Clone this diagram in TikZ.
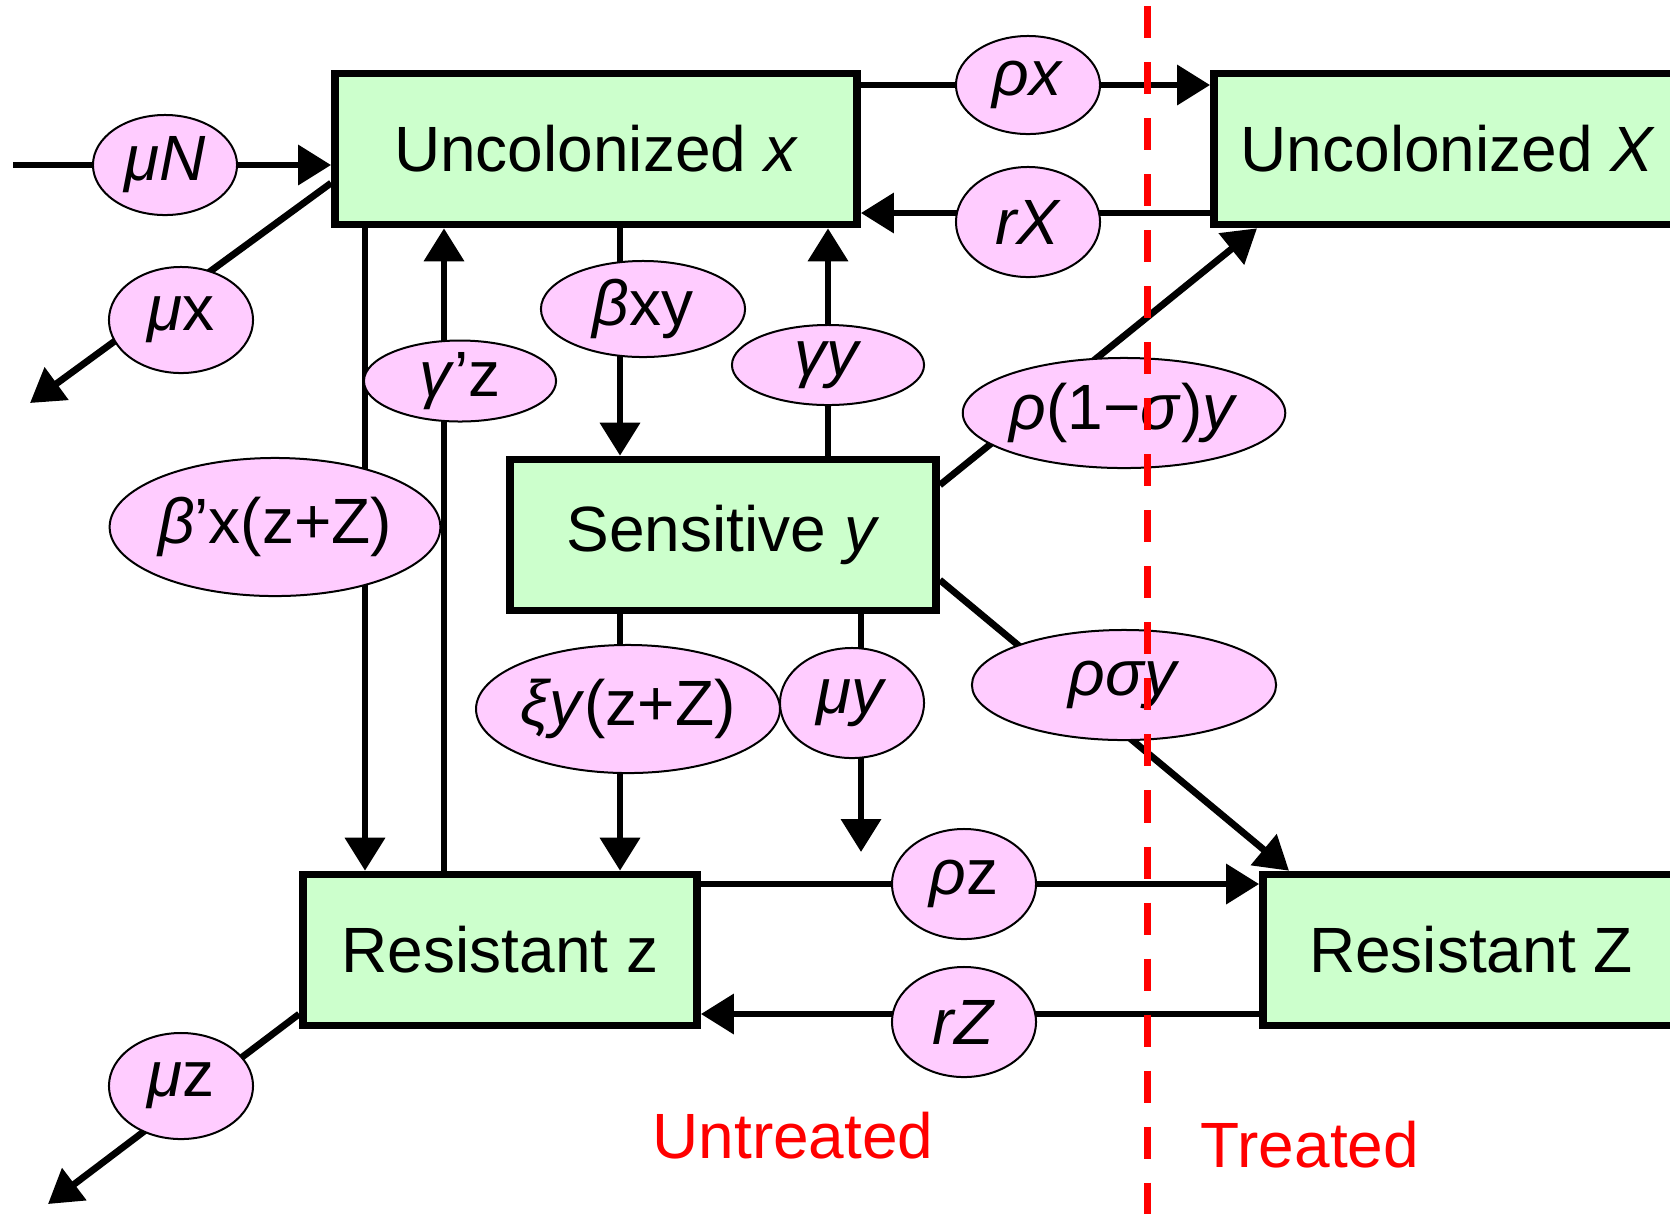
\documentclass[tikz,border=0pt]{standalone}
\usepackage{fontspec}
\setmainfont{Liberation Sans}
\usetikzlibrary{positioning}
\usetikzlibrary{shapes}
\usetikzlibrary{arrows.meta}

\definecolor{boxgreen}{HTML}{CCFFCC}
\definecolor{ratepink}{HTML}{FFCCFF}

\begin{document}
\begin{tikzpicture}[x = 0.01cm, y = -0.01cm, font = \fontsize{18.2}{22}\selectfont,
    box/.style = {draw, fill = boxgreen, line width = 0.075cm, minimum height = 1.51cm, inner sep = 0},
    rate/.style = {draw, ellipse, fill = ratepink, line width = 0.02cm, inner sep = 0},
    link/.style = {line width = 0.068cm},
    flow/.style = {link, -{Triangle[length = 0.33cm, width = 0.39cm]}}]
    \useasboundingbox (0,0) rectangle (1670,1214) ;
    % compartments
    \node[box, minimum width = 5.22cm] at (596,149) (ux) {Uncolonized \textit{x}} ;
    \node[box, minimum width = 4.68cm] at (1448,149) (uX) {Uncolonized \textit{X}} ;
    \node[box, minimum width = 4.26cm] at (723,535) (sy) {Sensitive \textit{y}} ;
    \node[box, minimum width = 3.94cm] at (500,950) (rz) {Resistant z} ;
    \node[box, minimum width = 4.16cm] at (1471,950) (rZ) {Resistant Z} ;
    % free ends
    \coordinate (inN) at (13,165) ;
    \coordinate (outx) at (30,403) ;
    \coordinate (outy) at (861,852) ;
    \coordinate (outz) at (48,1204) ;
    % flows
    \draw[flow] (inN) -- (inN -| ux.west) ;
    \draw[flow] (ux.west |- 0,183) -- (outx) ;
    \draw[flow] (rz.west |- 0,1014) -- (outz) ;
    \draw[flow] (ux.east |- 0,85) -- (uX.west |- 0,85) ;
    \draw[flow] (uX.west |- 0,213) -- (ux.east |- 0,213) ;
    \draw[flow] (ux.south -| 365,0) -- (rz.north -| 365,0) ;
    \draw[flow] (rz.north -| 444,0) -- (ux.south -| 444,0) ;
    \draw[flow] (ux.south -| 620,0) -- (sy.north -| 620,0) ;
    \draw[flow] (sy.north -| 828,0) -- (ux.south -| 828,0) ;
    \draw[flow] (sy.south -| 620,0) -- (rz.north -| 620,0) ;
    \draw[flow] (sy.south -| 861,0) -- (outy) ;
    \draw[flow] (sy.east |- 0,485) -- (uX.south -| 1257,0) ;
    \draw[flow] (sy.east |- 0,580) -- (rZ.north -| 1289,0) ;
    \draw[flow] (rz.east |- 0,884) -- (rZ.west |- 0,884) ;
    \draw[flow] (rZ.west |- 0,1014) -- (rz.east |- 0,1014) ;
    % rates
    \node[rate, minimum width = 1.44cm, minimum height = 1.0cm] at (165,165) (muN) {\textit{μN}} ;
    \node[rate, minimum width = 1.44cm, minimum height = 1.06cm] at (181,320) (mux) {\textit{μ}x} ;
    \node[rate, minimum width = 1.44cm, minimum height = 0.98cm] at (1028,85) (rhox) {\textit{ρx}} ;
    \node[rate, minimum width = 1.44cm, minimum height = 1.1cm] at (1028,222) (rX) {\textit{rX}} ;
    \node[rate, minimum width = 2.04cm, minimum height = 0.96cm] at (643,309) (bxy) {\textit{β}xy} ;
    \node[rate, minimum width = 1.92cm, minimum height = 0.8cm] at (460,381) (gz) {\textit{γ}’z} ;
    \node[rate, minimum width = 1.92cm, minimum height = 0.8cm] at (828,365) (gy) {\textit{γy}} ;
    \node[rate, minimum width = 3.04cm, minimum height = 1.1cm] at (1124,413) (rsX) {\textit{ρ}(1−\textit{σ})\textit{y}} ;
    \node[rate, minimum width = 3.04cm, minimum height = 1.38cm] at (275,527) (bxz) {\textit{β}’x(z+Z)} ;
    \node[rate, minimum width = 2.7cm, minimum height = 1.28cm] at (628,709) (xyz) {\textit{ξy}(z+Z)} ;
    \node[rate, minimum width = 1.44cm, minimum height = 1.1cm] at (852,703) (muy) {\textit{μy}} ;
    \node[rate, minimum width = 3.04cm, minimum height = 1.1cm] at (1124,685) (rsZ) {\textit{ρσy}} ;
    \node[rate, minimum width = 1.44cm, minimum height = 1.1cm] at (964,884) (rhoz) {\textit{ρ}z} ;
    \node[rate, minimum width = 1.44cm, minimum height = 1.1cm] at (964,1022) (rZr) {\textit{rZ}} ;
    \node[rate, minimum width = 1.44cm, minimum height = 1.06cm] at (181,1086) (muz) {\textit{μ}z} ;
    % treatment border
    \coordinate (top) at (1147,6) ;
    \coordinate (bottom) at (1147,1214) ;
    \draw[red, line width = 0.07cm, dash pattern = on 0.32cm off 0.24cm] (top) -- (bottom) ;
    \node[text = red] at (793,1136) (untreated) {Untreated} ;
    \node[text = red] at (1310,1145) (treated) {Treated} ;
\end{tikzpicture}
\end{document}
